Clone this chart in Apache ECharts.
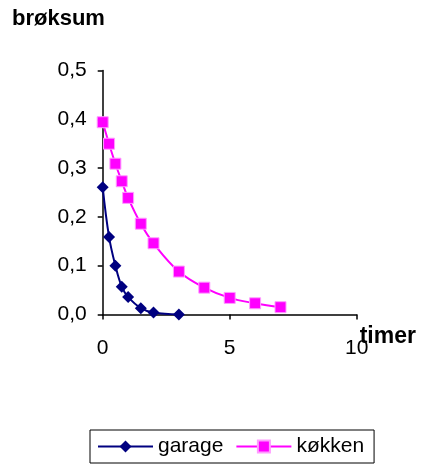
<!DOCTYPE html>
<html>
<head>
<meta charset="utf-8">
<script src="https://cdn.jsdelivr.net/npm/echarts@6/dist/echarts.min.js"></script>
<style>html,body{margin:0;padding:0;background:#fff}#c{width:423px;height:468px}</style>
</head>
<body>
<div id="c"></div>
<script>
var garageT = [0, 0.25, 0.5, 0.75, 1, 1.5, 2, 3];
var garageV = [0.261, 0.159, 0.100, 0.057, 0.036, 0.013, 0.004, 0.0];
var kokkenT = [0, 0.25, 0.5, 0.75, 1, 1.5, 2, 3, 4, 5, 6, 7];
var kokkenV = [0.394, 0.350, 0.309, 0.273, 0.239, 0.186, 0.146, 0.088, 0.055, 0.034, 0.023, 0.015];
var seriesNames = ['garage', 'køkken'];
var yTitle = 'brøksum';
var xTitle = 'timer';

function pairs(t, v) { return t.map(function (x, i) { return [x, v[i]]; }); }

var chart = echarts.init(document.getElementById('c'));
var font = 'Liberation Sans, Arial, sans-serif';
chart.setOption({
  animation: false,
  title: {
    text: yTitle, left: 12, top: 8, padding: 0,
    textStyle: { fontFamily: font, fontSize: 22, fontWeight: 'bold', color: '#000' }
  },
  grid: { left: 102.7, top: 70.5, width: 254, height: 244 },
  xAxis: {
    type: 'value', min: 0, max: 10, interval: 5,
    name: xTitle, nameLocation: 'end', nameGap: 3, nameMoveOverlap: false,
    nameTextStyle: { fontFamily: font, fontSize: 23, fontWeight: 'bold', color: '#000', align: 'left', verticalAlign: 'top', padding: [11, 0, 0, 0] },
    axisLine: { onZero: false, lineStyle: { color: '#000', width: 1.5 } },
    axisTick: { show: true, length: 5, inside: false, lineStyle: { color: '#000', width: 1.5 } },
    axisLabel: { margin: 23, fontFamily: font, fontSize: 21, color: '#000' },
    splitLine: { show: false }
  },
  yAxis: {
    type: 'value', min: 0, max: 0.5, interval: 0.1,
    axisLine: { show: true, lineStyle: { color: '#000', width: 1.5 } },
    axisTick: { show: true, length: 5, lineStyle: { color: '#000', width: 1.5 } },
    axisLabel: { margin: 16, fontFamily: font, fontSize: 21, color: '#000',
      formatter: function (v) { return v.toFixed(1).replace('.', ','); } },
    splitLine: { show: false }
  },
  legend: {
    left: 90, top: 430,
    data: seriesNames,
    borderColor: '#000', borderWidth: 1, borderRadius: 0,
    padding: [6, 10, 6, 7],
    itemWidth: 55, itemHeight: 15, itemGap: 12,
    textStyle: { fontFamily: font, fontSize: 21, color: '#000' }
  },
  series: [
    {
      name: seriesNames[0], type: 'line', smooth: 0.4,
      data: pairs(garageT, garageV),
      symbol: 'diamond', symbolSize: 12,
      lineStyle: { color: '#000080', width: 2 },
      itemStyle: { color: '#000080' }
    },
    {
      name: seriesNames[1], type: 'line', smooth: 0.4,
      data: pairs(kokkenT, kokkenV),
      symbol: 'rect', symbolSize: 11,
      lineStyle: { color: '#FF00FF', width: 2 },
      itemStyle: { color: '#FF00FF', borderColor: '#ff9cff', borderWidth: 1 }
    }
  ]
});
</script>
</body>
</html>
